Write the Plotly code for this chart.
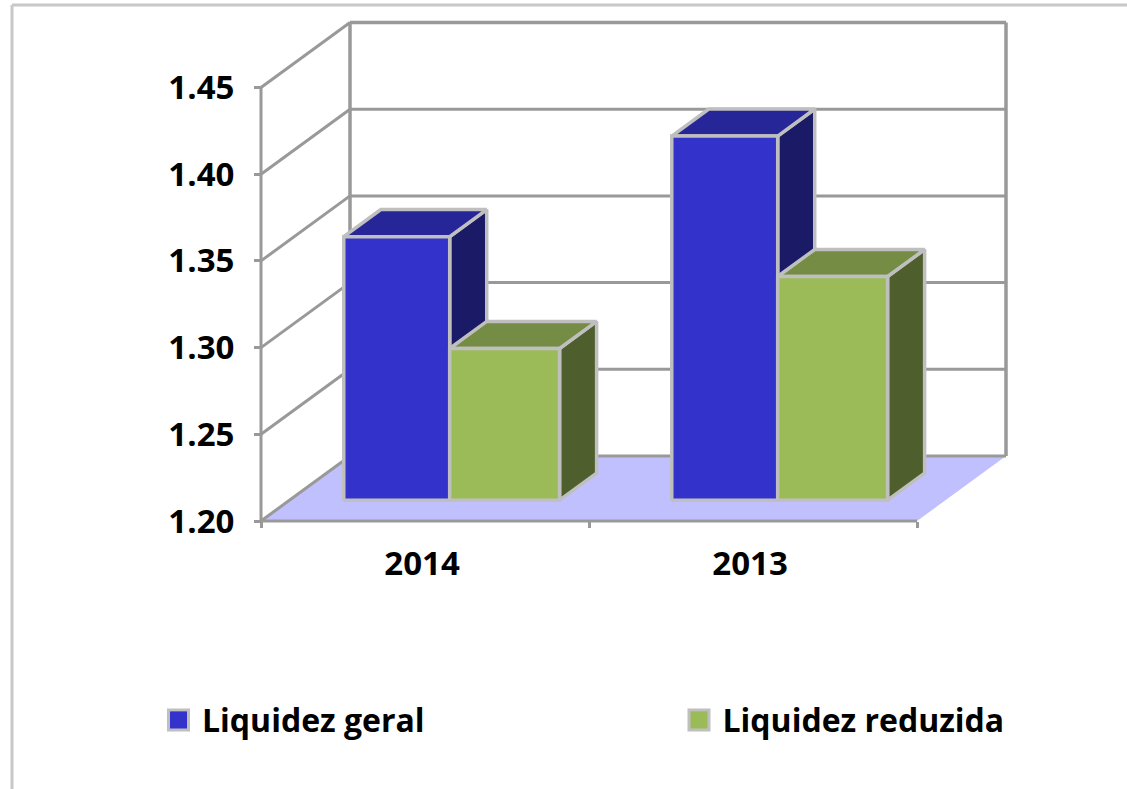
import plotly.graph_objects as go

categories = ["2014", "2013"]
series_names = ["Liquidez geral", "Liquidez reduzida"]
liquidez_geral = [1.352, 1.41]
liquidez_reduzida = [1.2875, 1.329]
y_ticks = [1.20, 1.25, 1.30, 1.35, 1.40, 1.45]
y_tick_labels = ["1.20", "1.25", "1.30", "1.35", "1.40", "1.45"]

# chart box (pixels): front axis origin at (AX, AY), wall reaches (R, T)
W, H = 1127, 789
AX, AY = 261, 521
R, T = 1006, 22
PAD = 10
L_P, R_P, T_P, B_P = AX - PAD, R + PAD, T - PAD, AY + PAD
PW, PH = R_P - L_P, B_P - T_P
PX_X = 328.0          # pixels per category
PX_Y = 433.5 / 0.25   # pixels per unit of value
# oblique depth of the wall in axis units
DX = 89 / PX_X
DY = 65 / PX_Y


def proj(x, v, z):
    return x + DX * z, v + DY * z


def px(x):
    return (x - L_P) / PW


def py(y):
    return (B_P - y) / PH


GRID = "#999999"
EDGE = "#BFBFBF"
traces = []


def add_line(xs, ys, width=3):
    traces.append(go.Scatter(x=xs, y=ys, mode="lines", showlegend=False,
                             hoverinfo="skip", line=dict(color=GRID, width=width)))


# floor
fl = [proj(0, 1.2, 0), proj(2, 1.2, 0), proj(2, 1.2, 1), proj(0, 1.2, 1)]
traces.append(go.Scatter(x=[p[0] for p in fl] + [fl[0][0]], y=[p[1] for p in fl] + [fl[0][1]],
                         mode="lines", fill="toself", fillcolor="#C0C0FF", line=dict(width=0),
                         showlegend=False, hoverinfo="skip"))

# back wall grid and left wall obliques
for t in y_ticks:
    a = proj(0, t, 1)
    b = proj(2, t, 1)
    add_line([a[0], b[0]], [a[1], b[1]], 3.5 if t == y_ticks[-1] else 3)
    c = proj(0, t, 0)
    add_line([c[0], a[0]], [c[1], a[1]], 3)
for x in (0, 2):
    a = proj(x, y_ticks[0], 1)
    b = proj(x, y_ticks[-1], 1)
    add_line([a[0], b[0]], [a[1], b[1]], 3.5)
# front axis lines
add_line([0, 0], [y_ticks[0], y_ticks[-1]], 3)
add_line([0, 2], [y_ticks[0], y_ticks[0]], 3)

# bars
Z0, Z1 = 0.32, 0.736
BAR_OFFSET = 0.1655
WIDTHS = [0.323, 0.335]
FACES = [("#3333CC", "#262699", "#1A1A66"), ("#9BBB59", "#748C43", "#4E5E2D")]
values = [liquidez_geral, liquidez_reduzida]

for s, vals in enumerate(values):
    front_col, top_col, side_col = FACES[s]
    sx, sy, tx, ty, fx, fy = [], [], [], [], [], []
    for c, v in enumerate(vals):
        x0 = c + BAR_OFFSET + sum(WIDTHS[:s])
        x1 = x0 + WIDTHS[s]
        # proj at Z0 lifts the bar's base by the depth of the floor
        a = proj(x0, 1.2, Z0); b = proj(x1, 1.2, Z0)
        d = proj(x0, v, Z0); e = proj(x1, v, Z0)
        bb = proj(x1, 1.2, Z1); be = proj(x1, v, Z1); bd = proj(x0, v, Z1)
        sx += [b[0], bb[0], be[0], e[0], b[0], None]
        sy += [b[1], bb[1], be[1], e[1], b[1], None]
        tx += [d[0], e[0], be[0], bd[0], d[0], None]
        ty += [d[1], e[1], be[1], bd[1], d[1], None]
        fx += [a[0], b[0], e[0], d[0], a[0], None]
        fy += [a[1], b[1], e[1], d[1], a[1], None]
    for xs, ys, col in ((sx, sy, side_col), (tx, ty, top_col), (fx, fy, front_col)):
        traces.append(go.Scatter(x=xs, y=ys, mode="lines", fill="toself", fillcolor=col,
                                 line=dict(color=EDGE, width=3.5),
                                 showlegend=False, hoverinfo="skip"))

# legend entries, each in its own legend so they can sit far apart
for s, name in enumerate(series_names):
    traces.append(go.Scatter(x=[None], y=[None], mode="markers", name=name,
                             legend="legend" if s == 0 else "legend2",
                             marker=dict(symbol="square", size=16, color=FACES[s][0])))

fig = go.Figure(traces)
FONT = "Open Sans"
LEG_FONT = dict(family=FONT, size=32, weight="bold")
TICK_FONT = dict(family=FONT, size=33, weight="bold", color="black")
LEG_Y = 720
SW_C = [178.5, 699]    # swatch centres
OFF = 23.5             # legend left edge to swatch centre


def legend_box(cx):
    return dict(orientation="h", x=px(cx - OFF), y=py(LEG_Y), xanchor="left", yanchor="middle",
                font=LEG_FONT, itemwidth=37, bgcolor="rgba(0,0,0,0)")


def swatch(cx, col):
    return dict(type="rect", xref="paper", yref="paper", layer="below",
                x0=px(cx - 10), x1=px(cx + 10), y0=py(LEG_Y - 10), y1=py(LEG_Y + 10),
                fillcolor=col, line=dict(color=EDGE, width=3))


fig.update_layout(
    width=W, height=H, autosize=False,
    margin=dict(l=L_P, r=W - R_P, t=T_P, b=H - B_P, pad=0),
    paper_bgcolor="white", plot_bgcolor="rgba(0,0,0,0)",
    font=dict(family=FONT, color="black"),
    hovermode=False,
    legend=legend_box(SW_C[0]),
    legend2=legend_box(SW_C[1]),
    xaxis=dict(range=[-PAD / PX_X, (R_P - AX) / PX_X], showgrid=False, zeroline=False, showline=False,
               anchor="free", position=py(AY),
               tickmode="array", tickvals=[0.491, 1.491], ticktext=categories,
               ticks="outside", ticklen=13, tickcolor="rgba(0,0,0,0)",
               tickfont=TICK_FONT,
               minor=dict(tickmode="array", tickvals=[0, 1, 2], ticks="outside",
                          ticklen=6, tickwidth=3, tickcolor=GRID, showgrid=False)),
    yaxis=dict(range=[1.2 - PAD / PX_Y, 1.2 + (AY - T_P) / PX_Y], showgrid=False, zeroline=False,
               showline=False, anchor="free", position=px(AX),
               tickmode="array", tickvals=y_ticks, ticktext=y_tick_labels,
               ticks="outside", ticklen=7, tickwidth=3, tickcolor=GRID,
               ticklabelstandoff=13,
               tickfont=TICK_FONT),
    shapes=[
        dict(type="line", xref="paper", yref="paper", x0=px(12), x1=px(12), y0=py(5), y1=py(789),
             line=dict(color="#C8C8C8", width=3)),
        dict(type="line", xref="paper", yref="paper", x0=px(12), x1=px(1127), y0=py(5), y1=py(5),
             line=dict(color="#C8C8C8", width=3)),
        swatch(SW_C[0], FACES[0][0]),
        swatch(SW_C[1], FACES[1][0]),
    ],
)
fig.write_html("out.html", config=dict(displayModeBar=False),
               post_script="document.body.style.margin='0';")
